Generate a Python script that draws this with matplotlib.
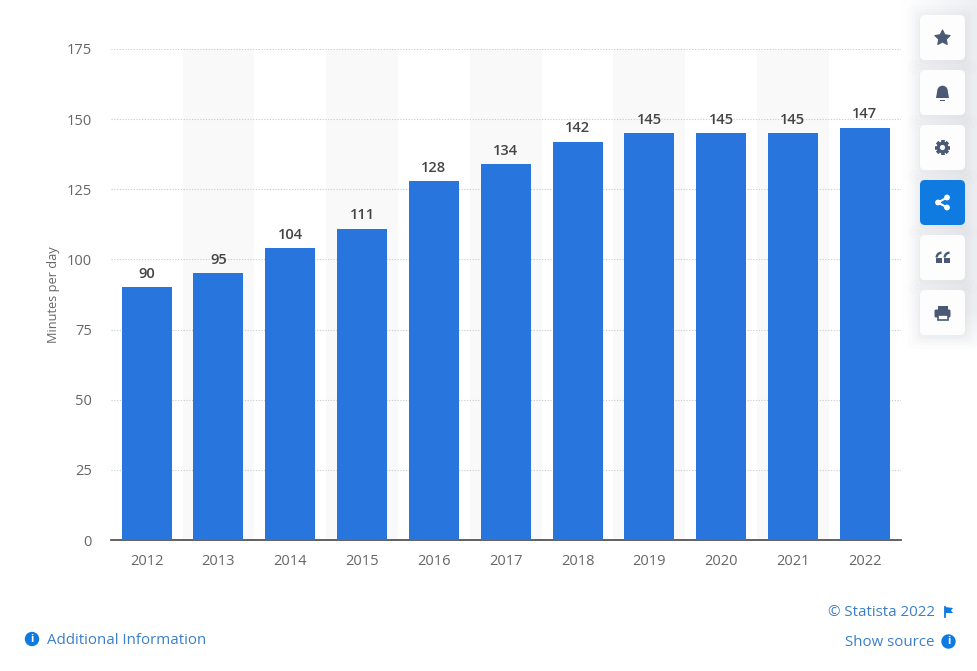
"""Minutes per day bar chart with the page furniture around it."""

import matplotlib

matplotlib.use("Agg")
import matplotlib.pyplot as plt
import numpy as np
from matplotlib.patches import Circle, FancyBboxPatch, Polygon, Rectangle, Wedge

plt.rcParams["font.family"] = ["Open Sans", "DejaVu Sans"]

years = ["2012", "2013", "2014", "2015", "2016", "2017", "2018", "2019", "2020", "2021", "2022"]
minutes = [90, 95, 104, 111, 128, 134, 142, 145, 145, 145, 147]
y_ticks = [0, 25, 50, 75, 100, 125, 150, 175]

BLUE = "#2876dd"
LINK = "#3a7fc8"
ACCENT = "#0f7be0"
ICON = "#4a5a75"
W, H = 977, 671

fig = plt.figure(figsize=(W / 100, H / 100), dpi=100, facecolor="white")

# soft grey glow behind the button column, sits under everything
glow = fig.add_axes([0, 0, 1, 1], facecolor="none", zorder=-1)
gx = np.clip((np.arange(W) - 900) / 77, 0, 1)
gy = np.clip((350 - np.arange(H)) / 40, 0, 1)
rgba = np.ones((H, W, 4))
rgba[..., :3] = (0.93, 0.94, 0.95)
rgba[..., 3] = np.outer(gy, gx)
glow.imshow(rgba, aspect="auto", interpolation="bilinear")
glow.axis("off")

ax = fig.add_axes([110.7 / W, 1 - 540 / H, 790 / W, 491 / H], zorder=1)

positions = list(range(len(years)))
for i in positions:
    if i % 2 == 1:
        ax.axvspan(i - 0.5, i + 0.5, color="#f9f9f9", lw=0, zorder=0)
ax.bar(positions, minutes, width=0.696, color=BLUE, zorder=3)
for x, v in zip(positions, minutes):
    ax.annotate(str(v), (x, v), xytext=(0, 4.5), textcoords="offset points", ha="center",
                va="bottom", fontsize=10.5, fontweight="semibold", color="#444444", zorder=4)

ax.set_xlim(-0.5, len(years) - 0.5)
ax.set_ylim(0, 175)
ax.set_xticks(positions, years)
ax.set_yticks(y_ticks)
ax.grid(axis="y", color="#c9c9c9", lw=0.8, ls=(0, (1, 1.5)), zorder=1)
ax.set_axisbelow(True)
ax.tick_params(axis="both", length=0, labelsize=10.5, labelcolor="#666666")
ax.tick_params(axis="x", pad=10)
ax.tick_params(axis="y", pad=13.5)
ax.set_ylabel("Minutes per day", fontsize=9.2, color="#666666", labelpad=5)
ax.patch.set_visible(False)
for side in ("top", "right", "left"):
    ax.spines[side].set_visible(False)
ax.spines["bottom"].set_color("#555555")
ax.spines["bottom"].set_linewidth(1.3)

# pixel-space overlay for the buttons and footer links
ov = fig.add_axes([0, 0, 1, 1], facecolor="none", zorder=2)
ov.set_xlim(0, W)
ov.set_ylim(H, 0)
ov.axis("off")

tops = [15, 70, 125, 180, 235, 290]
cx = 942.5
for n, top in enumerate(tops):
    for grow, alpha in ((12, 0.012), (8, 0.016), (5, 0.02), (2, 0.03)):
        ov.add_patch(FancyBboxPatch((920 - grow, top - grow + 2), 45 + 2 * grow, 45 + 2 * grow,
                                    boxstyle="round,pad=0,rounding_size=7", fc="#5a6a80",
                                    ec="none", alpha=alpha, zorder=5))
    ov.add_patch(FancyBboxPatch((920, top), 45, 45, boxstyle="round,pad=0,rounding_size=5",
                                fc=ACCENT if n == 3 else "#fdfdfd", ec="none", zorder=6))


def centre(n):
    return tops[n] + 22.5


# star
y = centre(0)
angles = np.deg2rad(np.arange(10) * 36 - 90)
radii = np.where(np.arange(10) % 2 == 0, 8, 4)
ov.add_patch(Polygon(np.column_stack([cx + radii * np.cos(angles), y + 0.5 + radii * np.sin(angles)]),
                     fc=ICON, ec=ICON, lw=0.8, joinstyle="round", zorder=7))
# bell
y = centre(1)
ov.add_patch(Wedge((cx, y - 1.5), 5.3, 180, 360, fc=ICON, ec="none", zorder=7))
ov.add_patch(Polygon([[cx - 5.3, y - 1.5], [cx + 5.3, y - 1.5], [cx + 6.5, y + 5.5], [cx - 6.5, y + 5.5]],
                     fc=ICON, ec="none", zorder=7))
ov.add_patch(Rectangle((cx - 2.5, y + 7), 5, 1.3, fc=ICON, ec="none", zorder=7))
# gear
y = centre(2)
for a in np.arange(8) * 45:
    ov.plot([cx + 4 * np.cos(np.deg2rad(a)), cx + 7.6 * np.cos(np.deg2rad(a))],
            [y + 4 * np.sin(np.deg2rad(a)), y + 7.6 * np.sin(np.deg2rad(a))],
            color=ICON, lw=2.6, solid_capstyle="butt", zorder=7)
ov.add_patch(Circle((cx, y), 5.8, fc=ICON, ec="none", zorder=7))
ov.add_patch(Circle((cx, y), 2.6, fc="#fdfdfd", ec="none", zorder=8))
# share
y = centre(3)
nodes = [(cx - 4.5, y), (cx + 4.5, y - 5), (cx + 4.5, y + 5)]
ov.plot([nodes[1][0], nodes[0][0], nodes[2][0]], [nodes[1][1], nodes[0][1], nodes[2][1]],
        color="white", lw=1.5, zorder=7)
for node in nodes:
    ov.add_patch(Circle(node, 2.9, fc="white", ec="none", zorder=8))
# quote marks
y = centre(4) + 1
for dx in (-7, 1):
    ov.add_patch(Rectangle((cx + dx, y - 1), 6, 5, fc=ICON, ec="none", zorder=7))
    ov.add_patch(Wedge((cx + dx + 6, y - 1), 6, 180, 270, width=2.4, fc=ICON, ec="none", zorder=7))
# printer
y = centre(5)
ov.add_patch(FancyBboxPatch((cx - 8, y - 3), 16, 8, boxstyle="round,pad=0,rounding_size=1.5",
                            fc=ICON, ec="none", zorder=7))
ov.add_patch(Rectangle((cx - 5, y - 7), 10, 4, fc=ICON, ec="none", zorder=7))
ov.add_patch(Rectangle((cx - 5, y + 2), 10, 5.5, fc="white", ec=ICON, lw=1.2, zorder=8))

# footer
ov.text(934.5, 612, "© Statista 2022", ha="right", va="center", fontsize=10.8, color=LINK, zorder=7)
ov.text(934.5, 642, "Show source", ha="right", va="center", fontsize=10.8, color=LINK, zorder=7)
ov.text(47, 640, "Additional Information", ha="left", va="center", fontsize=10.8, color=LINK, zorder=7)
for pos in ((32, 639), (948.5, 641.5)):
    ov.add_patch(Circle(pos, 7.2, fc=ACCENT, ec="none", zorder=7))
    ov.text(pos[0], pos[1], "i", ha="center", va="center", fontsize=8, fontweight="bold",
            color="white", zorder=8)
ov.plot([945, 945], [607, 617], color=ACCENT, lw=1.3, zorder=7)
ov.add_patch(Polygon([[945, 607], [953, 608], [951, 610.5], [953, 613], [945, 613]],
                     fc=ACCENT, ec="none", zorder=7))

fig.savefig("out.png", dpi=100)
